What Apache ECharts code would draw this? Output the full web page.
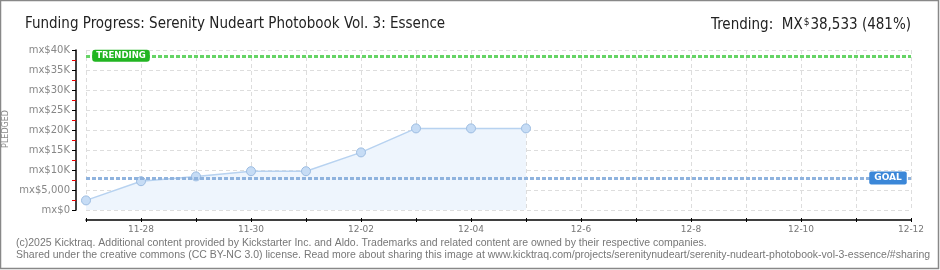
<!DOCTYPE html>
<html><head><meta charset="utf-8">
<script src="https://cdn.jsdelivr.net/npm/echarts@6/dist/echarts.min.js"></script>
<style>html,body{margin:0;padding:0;background:#fff}#c{width:940px;height:270px}</style>
</head><body><div id="c"></div>
<script>
var categories = ['11-27','11-28','11-29','11-30','12-01','12-02','12-03','12-04','12-05','12-06','12-07','12-08','12-09','12-10','12-11','12-12'];
var xTickLabels = {'11-28':'11-28','11-30':'11-30','12-02':'12-02','12-04':'12-04','12-06':'12-6','12-08':'12-8','12-10':'12-10','12-12':'12-12'};
var pledged = [2400, 7200, 8400, 9700, 9700, 14400, 20400, 20400, 20400];
var goal = 8000;
var trending = 38533;
var yTickLabels = {0:'mx$0',5000:'mx$5,000',10000:'mx$10K',15000:'mx$15K',20000:'mx$20K',25000:'mx$25K',30000:'mx$30K',35000:'mx$35K',40000:'mx$40K'};

var chart = echarts.init(document.getElementById('c'));
var footFont = 'Liberation Sans';
chart.setOption({
  backgroundColor: '#fff',
  animation: false,
  title: [
    {text: 'Funding Progress: Serenity Nudeart Photobook Vol. 3: Essence', left: 20, top: 12,
     textStyle: {fontFamily: 'DejaVu Sans Condensed', fontWeight: 'normal', fontSize: 15, color: '#222'}},
    {text: '{a|Trending:  MX}{b|$}{a|38,533 (481%)}', right: 24, top: 12,
     textStyle: {fontWeight: 'normal', rich: {a: {fontFamily: 'DejaVu Sans Condensed', fontWeight: 'normal', fontSize: 15, color: '#222'},
                        b: {fontFamily: 'DejaVu Sans Condensed', fontWeight: 'normal', fontSize: 10, color: '#222', verticalAlign: 'top', padding:[0,1,6,1]}}}},
    {text: '(c)2025 Kicktraq. Additional content provided by Kickstarter Inc. and Aldo. Trademarks and related content are owned by their respective companies.', left: 11, top: 233,
     textStyle: {fontFamily: footFont, fontWeight: 'normal', fontSize: 10.5, color: '#777'}},
    {text: 'Shared under the creative commons (CC BY-NC 3.0) license. Read more about sharing this image at www.kicktraq.com/projects/serenitynudeart/serenity-nudeart-photobook-vol-3-essence/#sharing', left: 11, top: 245,
     textStyle: {fontFamily: footFont, fontWeight: 'normal', fontSize: 10.5, color: '#777'}}
  ],
  graphic: [
    {type: 'rect', shape: {x: 0.5, y: 0.5, width: 938, height: 268}, style: {fill: 'none', stroke: '#888', lineWidth: 1.5}, silent: true},
    {type: 'text', left: 2, top: 110, rotation: Math.PI/2, style: {text: 'PLEDGED', fontFamily: 'DejaVu Sans', fontSize: 8, fill: '#888'}}
  ],
  grid: {left: 86, right: 29, top: 50, bottom: 60},
  xAxis: [{
    type: 'category', data: categories, boundaryGap: false, offset: 10,
    axisLine: {onZero: false, lineStyle: {color: '#000', width: 1.5}},
    axisTick: {show: true, length: 2, lineStyle: {color: '#000'}},
    axisLabel: {interval: 0, margin: 5, fontFamily: 'DejaVu Sans', fontSize: 9, color: '#777',
      formatter: function (v) { return xTickLabels[v] || ''; }},
    splitLine: {show: true, lineStyle: {color: '#ddd', type: [4, 3]}}
  }, {
    type: 'category', data: categories, boundaryGap: false, offset: 10, position: 'bottom',
    axisLine: {show: false, onZero: false},
    axisTick: {show: true, inside: true, length: 2, lineStyle: {color: '#000'}},
    axisLabel: {show: false}, splitLine: {show: false}
  }],
  yAxis: {
    type: 'value', min: 0, max: 40000, interval: 5000, offset: 10,
    axisLine: {show: true, onZero: false, lineStyle: {color: '#000', width: 1.5}},
    axisTick: {show: true, length: 4, lineStyle: {color: '#000'}},
    minorTick: {show: true, splitNumber: 2, length: 4, lineStyle: {color: '#e00'}},
    axisLabel: {margin: 6, fontFamily: 'DejaVu Sans', fontSize: 10, color: '#888',
      formatter: function (v) { return yTickLabels[v]; }},
    splitLine: {show: true, lineStyle: {color: '#ddd', type: [4, 3]}}
  },
  series: [{
    type: 'line', data: pledged, xAxisIndex: 0,
    symbol: 'circle', symbolSize: 9,
    itemStyle: {color: '#c6dcf5', borderColor: '#9dbde2', borderWidth: 1},
    lineStyle: {color: '#b7d2f0', width: 1.5},
    areaStyle: {color: '#eef5fd', opacity: 1},
    z: 2,
    markLine: {
      silent: true, symbol: 'none', z: 3,
      label: {show: false},
      data: [
        {yAxis: trending, lineStyle: {color: '#66d466', width: 3, type: [4, 2]}},
        {yAxis: goal, lineStyle: {color: '#8fb3de', width: 3, type: [4, 2]}}
      ]
    },
    markPoint: {
      silent: true, symbol: 'rect', symbolSize: 0, z: 5,
      data: [
        {coord: ['11-27', trending], label: {show: true, formatter: 'TRENDING', offset: [35, 0],
          backgroundColor: '#22b522', borderRadius: 3, padding: [2, 4, 1, 4], color: '#fff',
          fontFamily: 'DejaVu Sans', fontWeight: 'bold', fontSize: 8.5}},
        {coord: ['12-12', goal], label: {show: true, formatter: 'GOAL', offset: [-23, 0],
          backgroundColor: '#3b87d8', borderRadius: 2, padding: [2, 5, 2, 5], color: '#fff',
          fontFamily: 'DejaVu Sans', fontWeight: 'bold', fontSize: 9}}
      ]
    }
  }]
});
</script></body></html>
